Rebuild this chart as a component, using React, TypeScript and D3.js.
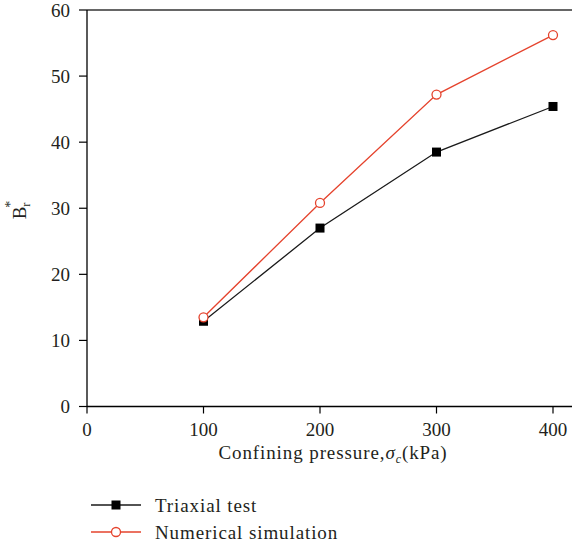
import React from "react";
import * as d3 from "d3";

const pressures = [100, 200, 300, 400];
const triaxial = [12.9, 27.0, 38.5, 45.4];
const numerical = [13.5, 30.8, 47.2, 56.2];
const xTicks = [0, 100, 200, 300, 400];
const yTicks = [0, 10, 20, 30, 40, 50, 60];
const RED = "#e5432d";
const FONT = '"Liberation Serif", "DejaVu Serif", serif';
const TS: React.CSSProperties = { fontFamily: FONT };
const TSW: React.CSSProperties = { fontFamily: FONT, letterSpacing: "0.9px" };

export default function App() {
  const W = 573, H = 547;
  const x = d3.scaleLinear().domain([0, 400]).range([87, 553]);
  const y = d3.scaleLinear().domain([0, 60]).range([406.5, 10]);
  const line = d3.line<number>().x((_, i) => x(pressures[i])).y((d) => y(d));
  const xEnd = 572;
  const fs = 19;
  return (
    <svg width={W} height={H} style={{ position: "absolute", left: 0, top: 0, fontFamily: FONT }}>
      <rect width={W} height={H} fill="#fff" />
      <line x1={x(0)} x2={xEnd} y1={y(0)} y2={y(0)} stroke="#000" strokeWidth={1.3} />
      <line x1={x(0)} x2={xEnd} y1={y(60)} y2={y(60)} stroke="#333" strokeWidth={1.3} />
      <line x1={x(0)} x2={x(0)} y1={y(0)} y2={y(60)} stroke="#000" strokeWidth={1.3} />
      {yTicks.map((t) => (
        <g key={"y" + t}>
          <line x1={x(0) - 8} x2={x(0)} y1={y(t)} y2={y(t)} stroke="#000" strokeWidth={1.2} />
          <text x={70} y={y(t)} dy="0.35em" textAnchor="end" fontSize={fs} fill="#231f20" style={TS}>{t}</text>
        </g>
      ))}
      {xTicks.map((t) => (
        <g key={"x" + t}>
          <line x1={x(t)} x2={x(t)} y1={y(0)} y2={y(0) + 7} stroke="#000" strokeWidth={1.2} />
          <text x={x(t)} y={y(0) + 29} textAnchor="middle" fontSize={fs} fill="#231f20" style={TS}>{t}</text>
        </g>
      ))}
      <text x={333} y={459} textAnchor="middle" fontSize={fs} fill="#231f20" style={TSW}>
        Confining pressure,<tspan fontStyle="italic">σ</tspan>
        <tspan fontStyle="italic" fontSize={12} dy={4}>c</tspan>
        <tspan dy={-4}>(kPa)</tspan>
      </text>
      <g transform="translate(26,210) rotate(-90)">
        <text textAnchor="middle" fontSize={fs} fill="#231f20" style={TS}>
          B<tspan fontSize={12} dy={4}>r</tspan>
          <tspan fontSize={14} dy={-15} dx={-5}>*</tspan>
        </text>
      </g>
      <path d={line(triaxial) || ""} fill="none" stroke="#1a1a1a" strokeWidth={1.3} />
      {triaxial.map((v, i) => (
        <rect key={"t" + i} x={x(pressures[i]) - 4.5} y={y(v) - 4.5} width={9} height={9} fill="#000" />
      ))}
      <path d={line(numerical) || ""} fill="none" stroke={RED} strokeWidth={1.3} />
      {numerical.map((v, i) => (
        <circle key={"n" + i} cx={x(pressures[i])} cy={y(v)} r={4.5} fill="#fff" stroke={RED} strokeWidth={1.3} />
      ))}
      <line x1={91} x2={141} y1={505} y2={505} stroke="#1a1a1a" strokeWidth={1.3} />
      <rect x={111.5} y={500.5} width={9} height={9} fill="#000" />
      <text x={155} y={505} dy="0.35em" fontSize={fs} fill="#231f20" style={TSW}>Triaxial test</text>
      <line x1={91} x2={141} y1={532} y2={532} stroke={RED} strokeWidth={1.3} />
      <circle cx={116} cy={532} r={4.5} fill="#fff" stroke={RED} strokeWidth={1.3} />
      <text x={155} y={532} dy="0.35em" fontSize={fs} fill="#231f20" style={TSW}>Numerical simulation</text>
    </svg>
  );
}
